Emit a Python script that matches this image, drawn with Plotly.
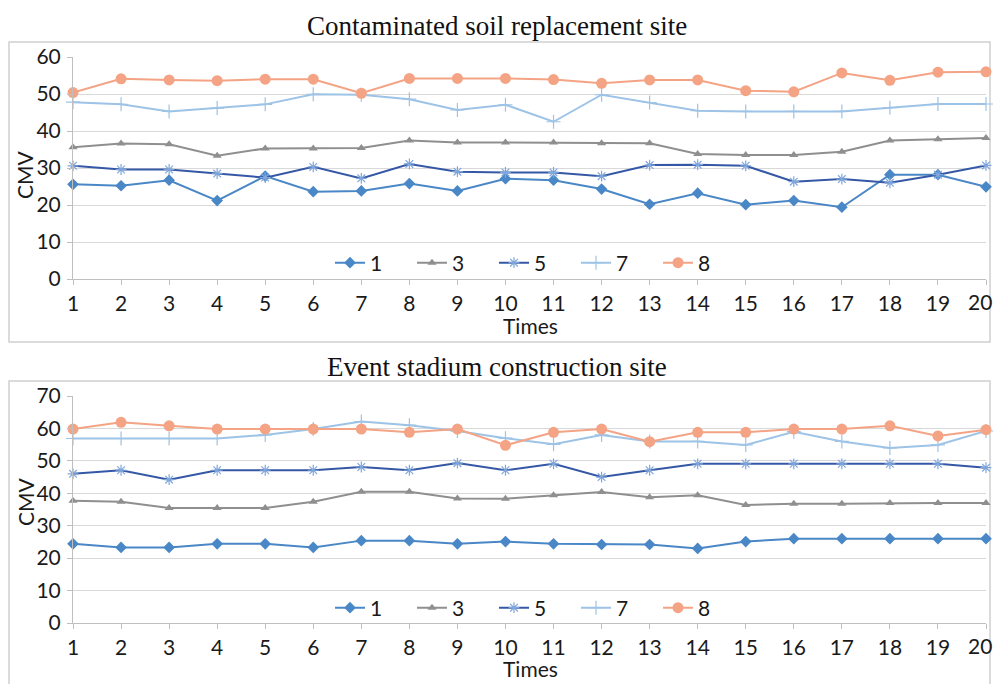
import plotly.graph_objects as go

times = list(range(1, 21))
# last tick label is drawn as an annotation nudged inward (as in the reference)
tick_labels = [str(t) for t in times[:-1]] + [""]
last_tick_label = str(times[-1])
series_names = ["1", "3", "5", "7", "8"]

# Contaminated soil replacement site
top_1 = [25.6, 25.2, 26.7, 21.2, 27.8, 23.6, 23.8, 25.8, 23.8, 27.1, 26.7, 24.3, 20.2, 23.2, 20.1, 21.2, 19.4, 28.2, 28.2, 24.9]
top_3 = [35.6, 36.6, 36.4, 33.3, 35.3, 35.3, 35.4, 37.4, 36.9, 36.9, 36.9, 36.7, 36.7, 33.8, 33.5, 33.5, 34.4, 37.4, 37.8, 38.1]
top_5 = [30.6, 29.6, 29.6, 28.5, 27.4, 30.3, 27.2, 31.1, 29.0, 28.8, 28.8, 27.8, 30.8, 30.9, 30.6, 26.3, 27.0, 26.0, 28.2, 30.7]
top_7 = [47.8, 47.2, 45.3, 46.2, 47.2, 49.9, 49.8, 48.6, 45.7, 47.1, 42.5, 49.8, 47.7, 45.5, 45.3, 45.3, 45.3, 46.3, 47.3, 47.3]
top_8 = [50.4, 54.1, 53.8, 53.6, 54.0, 54.0, 50.2, 54.2, 54.2, 54.2, 53.9, 52.9, 53.8, 53.8, 50.9, 50.6, 55.7, 53.7, 55.9, 56.0]

# Event stadium construction site
bot_1 = [24.4, 23.3, 23.3, 24.4, 24.4, 23.3, 25.4, 25.4, 24.4, 25.1, 24.4, 24.2, 24.2, 23.0, 25.1, 26.0, 26.0, 26.0, 26.0, 26.0]
bot_3 = [37.7, 37.4, 35.5, 35.5, 35.5, 37.4, 40.5, 40.5, 38.4, 38.3, 39.4, 40.4, 38.8, 39.4, 36.4, 36.8, 36.8, 37.0, 37.0, 37.0]
bot_5 = [46.0, 47.1, 44.2, 47.1, 47.1, 47.1, 48.1, 47.1, 49.3, 47.1, 49.1, 45.0, 47.1, 49.1, 49.1, 49.1, 49.1, 49.1, 49.1, 47.9]
bot_7 = [56.9, 56.9, 56.9, 56.9, 58.0, 59.8, 62.1, 61.0, 59.2, 57.0, 55.1, 58.0, 56.0, 56.0, 54.9, 59.0, 56.0, 54.0, 54.9, 59.2]
bot_8 = [59.8, 61.9, 60.8, 59.8, 59.8, 59.8, 59.8, 58.8, 59.8, 54.8, 58.8, 59.8, 55.9, 58.8, 58.8, 59.8, 59.8, 60.8, 57.7, 59.6]

top_title = "Contaminated soil replacement site"
bot_title = "Event stadium construction site"
y_title = "CMV"
x_title = "Times"

W, H = 995, 684
def px_x(p):
    return p / W
def px_y(p):
    return 1 - p / H

colors = ["#4A87C6", "#8F8F8F", "#3458A6", "#9DC3E6", "#F4A384"]
styles = [
    dict(symbol="diamond", size=9),
    dict(symbol="triangle-up", size=8),
    dict(symbol="asterisk", size=9),
    dict(symbol="cross-thin", size=10),
    dict(symbol="circle", size=11),
]
marker_line_colors = ["#4A87C6", "#8F8F8F", "#7FA6DC", "#9DC3E6", "#F4A384"]

fig = go.Figure()

def add_panel(data, xa, ya, legend):
    for name, vals, c, st, mlc in zip(series_names, data, colors, styles, marker_line_colors):
        m = dict(symbol=st["symbol"], size=st["size"], color=c)
        if st["symbol"] in ("asterisk", "cross-thin"):
            m["line"] = dict(width=1.2, color=mlc)
        else:
            m["line"] = dict(width=0)
        fig.add_trace(go.Scatter(
            x=times, y=vals, name=name, mode="lines+markers",
            line=dict(color=c, width=2), marker=m,
            xaxis=xa, yaxis=ya, legend=legend, cliponaxis=False,
        ))

add_panel([top_1, top_3, top_5, top_7, top_8], "x", "y", "legend")
add_panel([bot_1, bot_3, bot_5, bot_7, bot_8], "x2", "y2", "legend2")

tick_font = dict(family="Lato, Open Sans, sans-serif", size=21, color="#1a1a1a")
grid = "#d9d9d9"
axcol = "#bfbfbf"

xdom = [px_x(73), px_x(986)]
xcommon = dict(
    range=[1, 20], tickmode="array", tickvals=times, ticktext=tick_labels,
    showgrid=False, zeroline=False, showline=True, linecolor=axcol, linewidth=1,
    ticks="outside", ticklen=5, tickcolor=axcol, tickfont=tick_font, domain=xdom,
    ticklabelstandoff=1,
)
ycommon = dict(
    showgrid=True, gridcolor=grid, gridwidth=1, zeroline=False, showline=True,
    linecolor=axcol, linewidth=1, ticks="outside", ticklen=5, tickcolor=axcol,
    tickfont=tick_font, dtick=10, ticklabelstandoff=2,
)

legend_common = dict(orientation="h", xanchor="left", yanchor="middle",
                     bgcolor="rgba(0,0,0,0)", font=tick_font, entrywidth=37,
                     itemwidth=30, tracegroupgap=0)

fig.update_layout(
    width=W, height=H,
    margin=dict(l=0, r=0, t=0, b=0, autoexpand=False),
    paper_bgcolor="white", plot_bgcolor="white",
    showlegend=True,
    xaxis=dict(**xcommon, anchor="y"),
    yaxis=dict(**ycommon, range=[0, 60], domain=[px_y(279), px_y(57)], anchor="x"),
    xaxis2=dict(**xcommon, anchor="y2"),
    yaxis2=dict(**ycommon, range=[0, 70], domain=[px_y(623), px_y(396)], anchor="x2"),
    legend=dict(**legend_common, x=px_x(330), y=px_y(263)),
    legend2=dict(**legend_common, x=px_x(330), y=px_y(608)),
)

title_font = dict(family="Liberation Serif, Times New Roman, serif", size=27, color="#111111")
label_font = dict(family="Lato, Open Sans, sans-serif", size=21, color="#1a1a1a")
annotations = [
    dict(text=top_title, x=px_x(497), y=px_y(26), xref="paper", yref="paper", showarrow=False,
         font=title_font, xanchor="center", yanchor="middle"),
    dict(text=bot_title, x=px_x(497), y=px_y(367), xref="paper", yref="paper", showarrow=False,
         font=title_font, xanchor="center", yanchor="middle"),
    dict(text=y_title, x=px_x(25), y=px_y(175), xref="paper", yref="paper", showarrow=False,
         font=label_font, textangle=-90, xanchor="center", yanchor="middle"),
    dict(text=y_title, x=px_x(25), y=px_y(502), xref="paper", yref="paper", showarrow=False,
         font=label_font, textangle=-90, xanchor="center", yanchor="middle"),
    dict(text=x_title, x=px_x(530), y=px_y(325), xref="paper", yref="paper", showarrow=False,
         font=label_font, xanchor="center", yanchor="middle"),
    dict(text=x_title, x=px_x(530), y=px_y(668), xref="paper", yref="paper", showarrow=False,
         font=label_font, xanchor="center", yanchor="middle"),
    dict(text=last_tick_label, x=px_x(980), y=px_y(301), xref="paper", yref="paper",
         showarrow=False, font=tick_font, xanchor="center", yanchor="middle"),
    dict(text=last_tick_label, x=px_x(980), y=px_y(645), xref="paper", yref="paper",
         showarrow=False, font=tick_font, xanchor="center", yanchor="middle"),
]
fig.update_layout(annotations=annotations)

shapes = [
    dict(type="rect", xref="paper", yref="paper", x0=px_x(9), x1=px_x(990),
         y0=px_y(342), y1=px_y(42), line=dict(color="#d0d0d0", width=1.5), layer="below"),
    dict(type="rect", xref="paper", yref="paper", x0=px_x(9), x1=px_x(990),
         y0=px_y(700), y1=px_y(381), line=dict(color="#d0d0d0", width=1.5), layer="below"),
]
fig.update_layout(shapes=shapes)

fig.write_html("out.html", config={"displayModeBar": False},
               post_script="document.body.style.margin='0';")
